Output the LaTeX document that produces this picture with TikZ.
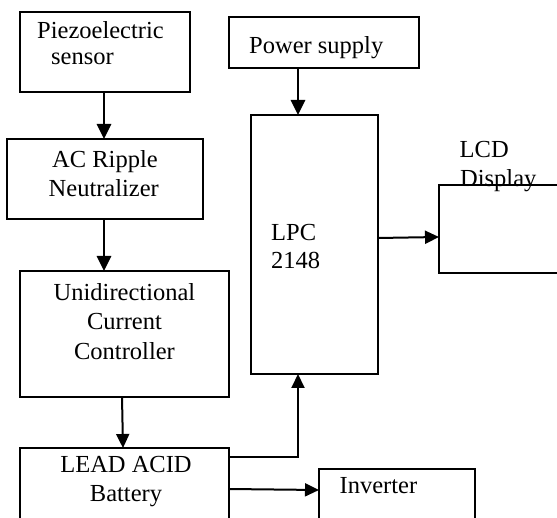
\documentclass[tikz,border=0pt]{standalone}
\usepackage{fontspec}
\setmainfont{Liberation Serif}
\usetikzlibrary{arrows.meta}
\begin{document}
\begin{tikzpicture}[x=1pt,y=-1pt,
  box/.style={draw,line width=1.5pt,inner sep=0pt,outer sep=0pt,anchor=north west},
  arr/.style={line width=2.8pt,-{Triangle[length=15pt,width=14pt]}},
  arrthin/.style={line width=2pt,-{Triangle[length=14pt,width=13pt]}},
  txt/.style={inner sep=0pt,anchor=base west,font=\fontsize{24.5}{29.5}\selectfont},
  ctxt/.style={inner sep=0pt,align=center,font=\fontsize{24.5}{29.5}\selectfont}]
\useasboundingbox (0,0) rectangle (557,518);
\clip (0,0) rectangle (557,518);
\fill[white] (0,0) rectangle (557,518);
% boxes
\node[box,minimum width=170pt,minimum height=80pt] (piezo) at (20,12) {};
\node[box,minimum width=196pt,minimum height=80pt] (ac) at (7,139) {};
\node[box,minimum width=209pt,minimum height=126pt] (uni) at (20,271) {};
\node[box,minimum width=209pt,minimum height=100pt] (bat) at (20,448) {};
\node[box,minimum width=190pt,minimum height=51pt] (power) at (229,17) {};
\node[box,minimum width=127pt,minimum height=259pt] (lpc) at (251,115) {};
\node[box,minimum width=140pt,minimum height=88pt] (lcd) at (439,185) {};
\node[box,minimum width=156pt,minimum height=80pt] (inv) at (319,469) {};
% texts
\node[txt] (t1) at (37,39) {Piezoelectric};
\node[txt] (t2) at (51,65) {sensor};
\node[txt] (t3) at (52,168) {AC Ripple};
\node[txt] (t4) at (48.5,196.5) {Neutralizer};
\node[ctxt,anchor=base] (t5) at (124.5,359.5) {Unidirectional\\Current\\Controller};
\node[ctxt,anchor=base] (t6) at (126,501.5) {LEAD ACID\\Battery};
\node[txt] (t7) at (249,54) {Power supply};
\node[txt] (t8) at (459.5,158) {LCD};
\node[txt] (t9) at (460,187) {Display};
\node[txt] (t10) at (271,240.5) {LPC};
\node[txt] (t11) at (271,268.5) {2148};
\node[txt] (t12) at (339.5,493) {Inverter};
% connectors
\coordinate (pl) at (298,0);
\draw[arr] ([xshift=-1pt]piezo.south) -- ([xshift=-1pt]ac.north);
\draw[arr] ([xshift=-1pt]ac.south) -- ([xshift=-1pt]ac.south |- uni.north);
\draw[arrthin] ([xshift=-2.5pt]uni.south) -- ([xshift=-1.5pt]bat.north);
\draw[arr] (power.south -| pl) -- (lpc.north -| pl);
\draw[arrthin] ([yshift=6.5pt]lpc.east) -- ([yshift=-8pt]lcd.west);
\draw[arrthin] ([yshift=-9pt]bat.north east) -| (lpc.south -| pl);
\draw[arrthin] ([yshift=-41pt]bat.north east) -- ([yshift=-21pt]inv.north west);
\end{tikzpicture}
\end{document}
